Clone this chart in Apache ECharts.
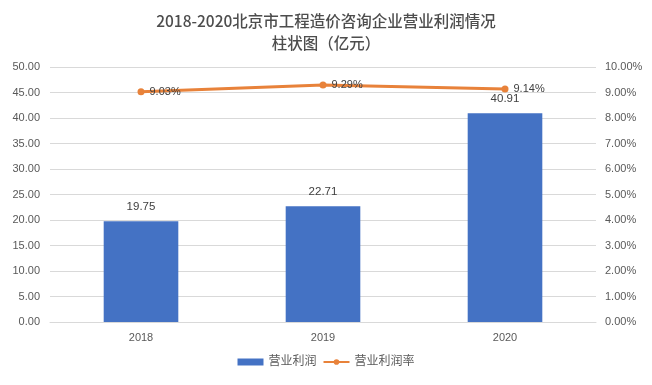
<!DOCTYPE html>
<html><head><meta charset="utf-8">
<script src="https://cdn.jsdelivr.net/npm/echarts@6/dist/echarts.min.js"></script>
<style>html,body{margin:0;padding:0;background:#fff}#c{width:652px;height:385px}</style>
</head><body><div id="c"></div>
<script>
const categories = ['2018', '2019', '2020'];
const profit = [19.75, 22.71, 40.91];
const profitRate = [9.03, 9.29, 9.14];
const seriesNames = ['营业利润', '营业利润率'];
const titleText = '2018-2020北京市工程造价咨询企业营业利润情况\n柱状图（亿元）';

const font = '"Liberation Sans", "Noto Sans CJK SC", sans-serif';
const chart = echarts.init(document.getElementById('c'));
chart.setOption({
  backgroundColor: '#fff',
  animation: false,
  textStyle: { fontFamily: font },
  title: {
    text: titleText, left: 'center', top: 5,
    textStyle: { fontSize: 15.5, fontWeight: 500, color: '#4d4d4d', lineHeight: 22, fontFamily: '"Noto Sans CJK SC", sans-serif' }
  },
  legend: {
    bottom: 12, left: 'center', itemGap: 6,
    textStyle: { fontSize: 12, color: '#595959' },
    data: [
      { name: seriesNames[0], icon: 'rect', itemStyle: { color: '#4472C4' } },
      { name: seriesNames[1] }
    ],
    itemWidth: 26, itemHeight: 7
  },
  grid: { left: 50, right: 56, top: 67, bottom: 63 },
  xAxis: {
    type: 'category', data: categories,
    axisLine: { lineStyle: { color: '#D9D9D9' } },
    axisTick: { show: false },
    axisLabel: { color: '#595959', fontSize: 11, margin: 10 }
  },
  yAxis: [
    {
      type: 'value', min: 0, max: 50, interval: 5,
      axisLine: { show: false }, axisTick: { show: false },
      axisLabel: { color: '#595959', fontSize: 11, margin: 10, formatter: v => v.toFixed(2) },
      splitLine: { lineStyle: { color: '#D9D9D9' } }
    },
    {
      type: 'value', min: 0, max: 10, interval: 1,
      axisLine: { show: false }, axisTick: { show: false },
      axisLabel: { color: '#595959', fontSize: 11, margin: 9, formatter: v => v.toFixed(2) + '%' },
      splitLine: { show: false }
    }
  ],
  series: [
    {
      name: seriesNames[0], type: 'bar', data: profit, barWidth: '41%',
      itemStyle: { color: '#4472C4' },
      label: { show: true, position: 'top', color: '#404040', fontSize: 11.5, distance: 9, formatter: p => p.value.toFixed(2) }
    },
    {
      name: seriesNames[1], type: 'line', yAxisIndex: 1, data: profitRate,
      symbol: 'circle', symbolSize: 7,
      lineStyle: { color: '#E8823A', width: 3 },
      itemStyle: { color: '#E8823A' },
      label: { show: true, position: 'right', color: '#404040', fontSize: 11, distance: 5, formatter: p => p.value.toFixed(2) + '%' }
    }
  ]
});
</script></body></html>
